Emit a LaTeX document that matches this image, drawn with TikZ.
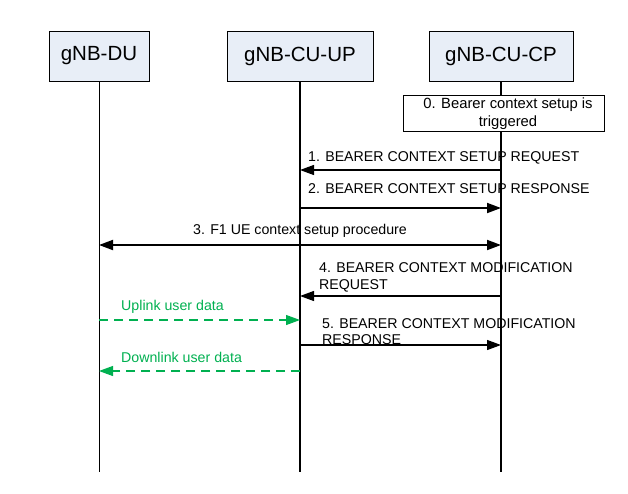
\documentclass[tikz,border=0pt]{standalone}
\usepackage{fontspec}
\setmainfont{Liberation Sans}
\usetikzlibrary{arrows.meta}
\definecolor{boxfill}{RGB}{232,238,247}
\definecolor{ugreen}{RGB}{0,176,80}
\begin{document}
\begin{tikzpicture}[x=1pt,y=-1pt,
  entity/.style={draw, line width=1pt, fill=boxfill, minimum width=100pt, minimum height=50pt, inner sep=0pt, font=\fontsize{20.5}{24}\selectfont},
  msg/.style={draw, line width=1.2pt, -{Triangle[length=14pt,width=10pt]}},
  msgtxt/.style={anchor=west, inner sep=0pt, align=left, font=\fontsize{14.2}{17}\selectfont},
  datamsg/.style={draw=ugreen, line width=1.1pt, dash pattern=on 9pt off 6pt, -{Triangle[length=14pt,width=10pt]}},
  datatxt/.style={anchor=west, inner sep=0pt, text=ugreen, font=\fontsize{14.2}{17}\selectfont},
  notebox/.style={draw, line width=1pt, fill=white, minimum width=201pt, minimum height=36pt, inner sep=0pt},
  notetxt/.style={inner sep=0pt, align=center, font=\fontsize{14.8}{17.5}\selectfont}
]
\useasboundingbox (0,0) rectangle (628,493);

% entities
\node[entity] (du) at (99,56) {gNB-DU};
\node[entity, minimum width=146pt] (up) at (300,56) {gNB-CU-UP};
\node[entity, minimum width=144pt] (cp) at (501,56) {gNB-CU-CP};

% lifeline ends
\coordinate (duend) at (99,472);
\coordinate (upend) at (300,472);
\coordinate (cpend) at (501,472);
\draw[line width=1pt] (du.south) -- (duend);
\draw[line width=1.3pt] (up.south) -- (upend);
\draw[line width=2.4pt] (cp.south) -- (cpend);

% step 0
\node[notebox] (n0) at (503.5,113.5) {};
\node[notetxt] (n0t) at (508,113.5) {0. Bearer context setup is\\triggered};

% event coordinates
\coordinate (cp1) at (501,170); \coordinate (up1) at (300,170);
\coordinate (cp2) at (501,208); \coordinate (up2) at (300,208);
\coordinate (cp3) at (501,245); \coordinate (du3) at (99,245);
\coordinate (cp4) at (501,296); \coordinate (up4) at (300,296);
\coordinate (du6) at (99,320);  \coordinate (up6) at (300,320);
\coordinate (cp5) at (501,345); \coordinate (up5) at (300,345);
\coordinate (up7) at (300,371); \coordinate (du7) at (99,371);

% messages
\draw[msg, line width=1.2pt] (cp1) -- (up1);
\node[msgtxt] (t1) at (308,158) {1. BEARER CONTEXT SETUP REQUEST};

\draw[msg, line width=1.8pt] (up2) -- (cp2);
\node[msgtxt] (t2) at (308,189) {2. BEARER CONTEXT SETUP RESPONSE};

\draw[msg, line width=1.8pt, {Triangle[length=14pt,width=10pt]}-{Triangle[length=14pt,width=10pt]}] (du3) -- (cp3);
\node[msgtxt] (t3) at (193,231) {3. F1 UE context setup procedure};

\draw[msg] (cp4) -- (up4);
\node[msgtxt] (t4) at (319,277.5) {4. BEARER CONTEXT MODIFICATION\\REQUEST};

\draw[datamsg] (du6) -- (up6);
\node[datatxt] (t6) at (121,307) {Uplink user data};

\draw[msg] (up5) -- (cp5);
\node[msgtxt] (t5) at (322,332) {5. BEARER CONTEXT MODIFICATION\\[-1pt]RESPONSE};

\draw[datamsg] (up7) -- (du7);
\node[datatxt] (t7) at (121,357) {Downlink user data};
\end{tikzpicture}
\end{document}
